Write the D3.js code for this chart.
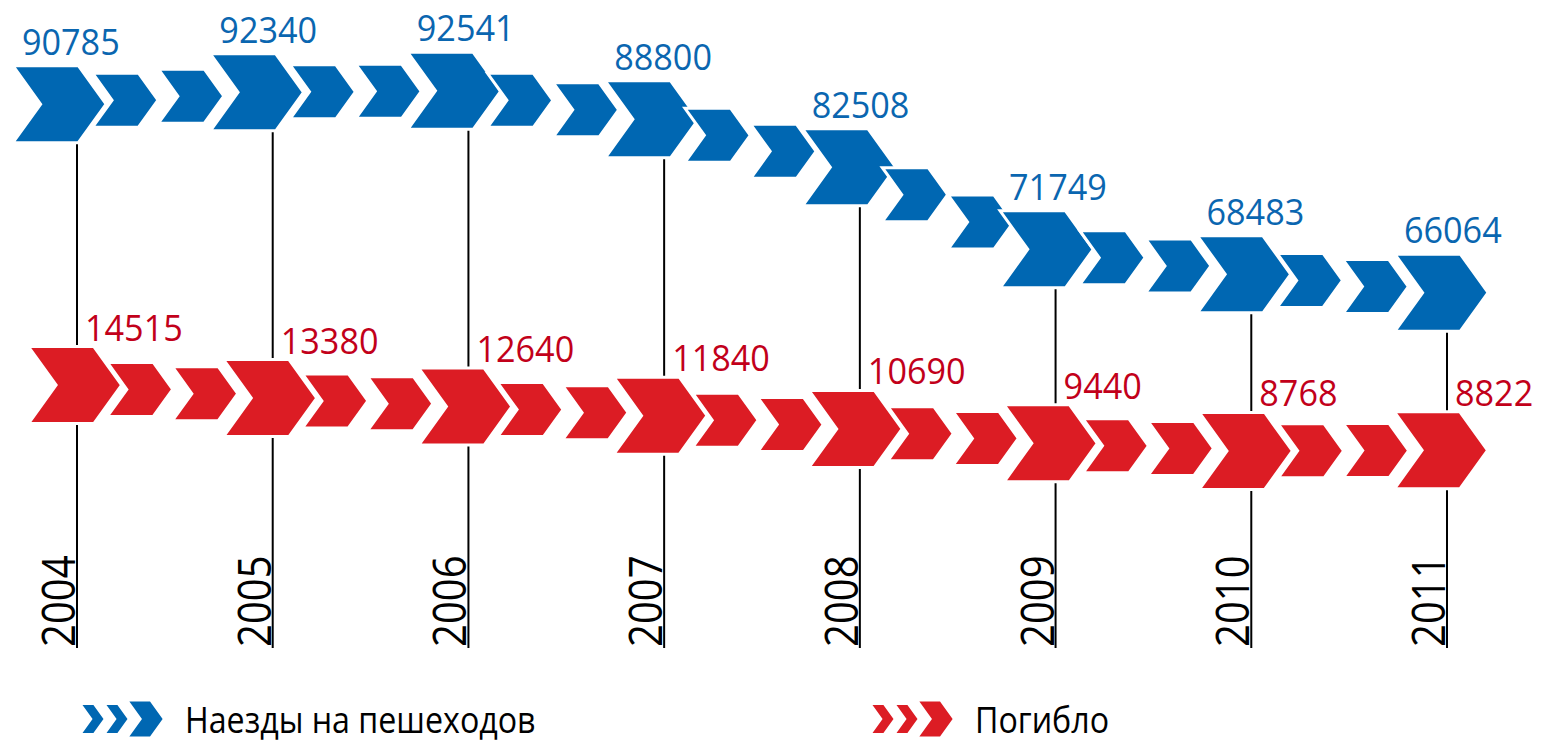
<!DOCTYPE html>
<html>
<head>
<meta charset="UTF-8">
<title>Наезды на пешеходов</title>
<script src="https://d3js.org/d3.v7.min.js"></script>
<style>
  body { margin:0; background:#fff; }
  svg text { font-family:"Open Sans", sans-serif; }
</style>
</head>
<body>
<div id="chart"></div>
<script>
// data
const years = ['2004','2005','2006','2007','2008','2009','2010','2011'];
const pedestrianHits = [90785, 92340, 92541, 88800, 82508, 71749, 68483, 66064];
const deaths = [14515, 13380, 12640, 11840, 10690, 9440, 8768, 8822];
const legendLabels = ['Наезды на пешеходов', 'Погибло'];

const W = 1546, H = 743;
const BLUE = '#0067b2', BLUE_TXT = '#0a66b0';
const RED = '#dc1c24', RED_TXT = '#c2001a';

const svg = d3.select('#chart').append('svg')
  .attr('width', W).attr('height', H);

const xLine = d3.scalePoint().domain(years).range([77, 1447]);
const xBlue = d3.scalePoint().domain(years).range([59.5, 1441.5]);
const xRed = d3.scalePoint().domain(years).range([75, 1441]);
const yBlue = d3.scaleLinear().domain([60000, 95000]).range([339, 72]);
const yRed = d3.scaleLinear().domain([8000, 16000]).range([459.8, 368]);

const BIG = 77, SMALL = 54;

function chevron(cx, cy, h, wr){
  const w = h * (wr || 1.21), n = h * 0.36, l = cx - w/2;
  return `M${l},${cy-h/2}L${l+w-n},${cy-h/2}L${l+w},${cy}L${l+w-n},${cy+h/2}L${l},${cy+h/2}L${l+n},${cy}Z`;
}

// big chevron on each year, two small ones in between
function buildMarks(vals, sx, sy){
  const marks = [];
  vals.forEach((v,i) => {
    const cx = sx(years[i]), cy = sy(v);
    marks.push({cx, cy, h:BIG});
    if(i < vals.length-1){
      const nx = sx(years[i+1]), ny = sy(vals[i+1]);
      [1/3, 2/3].forEach(t => marks.push({cx: cx+(nx-cx)*t, cy: cy+(ny-cy)*t, h:SMALL}));
    }
  });
  return marks;
}

// vertical year lines
svg.append('g').selectAll('line').data(years).enter().append('line')
  .attr('x1', d=>xLine(d)).attr('x2', d=>xLine(d))
  .attr('y1', (d,i)=>yBlue(pedestrianHits[i]))
  .attr('y2', 648)
  .attr('stroke', '#000').attr('stroke-width', 2);

// year labels
svg.append('g').selectAll('text').data(years).enter().append('text')
  .attr('transform', d=>`translate(${xLine(d)-2},647) rotate(-90) scale(0.89,1)`)
  .attr('font-size', 45)
  .attr('fill', '#000')
  .text(d=>d);

function drawSeries(vals, sx, sy, color){
  svg.append('g').selectAll('path').data(buildMarks(vals, sx, sy)).enter().append('path')
    .attr('d', d=>chevron(d.cx, d.cy, d.h))
    .attr('fill', color)
    .attr('stroke', '#fff')
    .attr('stroke-width', 3)
    .attr('stroke-linejoin', 'miter');
}
drawSeries(pedestrianHits, xBlue, yBlue, BLUE);
drawSeries(deaths, xRed, yRed, RED);

// value labels
svg.append('g').selectAll('text').data(pedestrianHits).enter().append('text')
  .attr('transform', (d,i)=>`translate(${xBlue(years[i]) - BIG*1.21/2 + 9},${yBlue(d) - BIG/2 - 11}) scale(0.95,1)`)
  .attr('font-size', 36)
  .attr('fill', BLUE_TXT)
  .text(d=>d);

svg.append('g').selectAll('text').data(deaths).enter().append('text')
  .attr('transform', (d,i)=>`translate(${xLine(years[i]) + 8},${yRed(d) - BIG/2 - 6}) scale(0.95,1)`)
  .attr('font-size', 36)
  .attr('fill', RED_TXT)
  .text(d=>d);

// legend
const legend = [
  {label: legendLabels[0], color: BLUE, x: 83},
  {label: legendLabels[1], color: RED, x: 873}
];
const lg = svg.append('g').selectAll('g').data(legend).enter().append('g')
  .attr('transform', d=>`translate(${d.x},719)`);
lg.append('path').attr('d', chevron(10, 0, 28, 0.75)).attr('fill', d=>d.color);
lg.append('path').attr('d', chevron(34, 0, 28, 0.75)).attr('fill', d=>d.color);
lg.append('path').attr('d', chevron(63, 0, 35, 0.95)).attr('fill', d=>d.color);
lg.append('text')
  .attr('transform', 'translate(102,14) scale(0.87,1)')
  .attr('font-size', 37)
  .attr('fill', '#000')
  .text(d=>d.label);
</script>
</body>
</html>
